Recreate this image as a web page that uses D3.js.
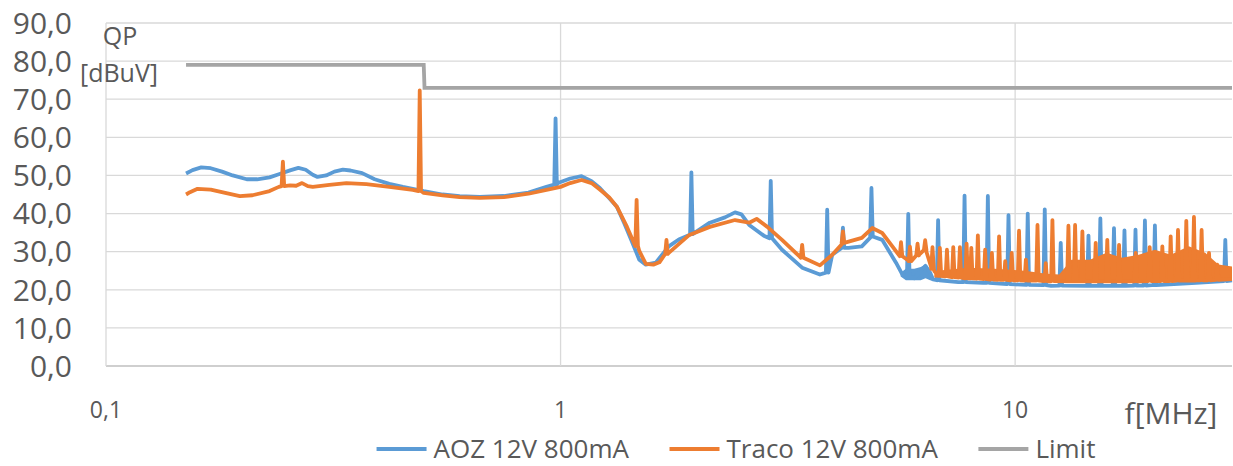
<!DOCTYPE html>
<html>
<head>
<meta charset="utf-8">
<title>QP conducted emission</title>
<style>
  body { margin: 0; background: #fff; }
  text { font-family: "Open Sans", sans-serif; fill: #595959; }
</style>
</head>
<body>
<svg id="chart" width="1233" height="466"></svg>
<script src="https://d3js.org/d3.v7.min.js"></script>
<script>
// ticks
const xTicks = [0.1, 1, 10]
const xTickLabels = ['0,1', '1', '10']
const yTicks = [0, 10, 20, 30, 40, 50, 60, 70, 80, 90]

// limit line [MHz, dBuV]
const limit = [[0.15, 79], [0.5, 79], [0.502, 73], [30, 73]]

// AOZ 12V 800mA : smooth trace, harmonic spikes [f, base, peak], noise band [f, lo, hi]
const aozBase = [
  [0.15, 50.5], [0.155, 51.4], [0.162, 52.1], [0.17, 51.9], [0.18, 51.0], [0.19, 50.0],
  [0.204, 49.0], [0.215, 49.0], [0.229, 49.5], [0.24, 50.3], [0.255, 51.4], [0.265, 52.0],
  [0.275, 51.5], [0.285, 50.2], [0.292, 49.6], [0.305, 50.0], [0.318, 51.0], [0.332, 51.5],
  [0.345, 51.3], [0.366, 50.6], [0.39, 49.0], [0.42, 47.8], [0.45, 47.0], [0.473, 46.5],
  [0.5, 45.9], [0.55, 45.0], [0.6, 44.6], [0.664, 44.4], [0.75, 44.6], [0.85, 45.5],
  [0.931, 47.0], [0.99, 48.1], [1.05, 49.2], [1.112, 49.8], [1.17, 48.5], [1.22, 46.7],
  [1.28, 44.0], [1.33, 41.8], [1.38, 37.5], [1.43, 33.1], [1.49, 27.9], [1.54, 26.6],
  [1.62, 27.1], [1.73, 31.4], [1.82, 33.2], [1.92, 34.4], [2.13, 37.6], [2.3, 39.0],
  [2.42, 40.3], [2.5, 39.8], [2.6, 37.0], [2.8, 34.2], [3.07, 30.5], [3.4, 25.8],
  [3.72, 24.0], [3.96, 29.2], [4.3, 31.0], [4.6, 31.4], [4.83, 34.0], [5.1, 33.1],
  [5.47, 27.1], [5.65, 24.0], [6.0, 23.0], [6.2, 25.0], [6.35, 26.3], [6.5, 24.5],
  [6.6, 22.7], [7.5, 22.0], [8.5, 21.8], [10, 21.4], [12, 21.0], [15, 21.0],
  [20, 21.2], [25, 21.8], [30, 22.5]
]
const aozSpikes = [
  [0.975, 47.6, 65.0], [1.94, 34.6, 50.8], [2.9, 33.5, 48.6], [3.86, 24.5, 41.0],
  [4.18, 31.0, 36.3], [4.83, 34.0, 46.7], [5.82, 23.5, 39.9], [6.77, 22.5, 38.3],
  [7.74, 22.0, 44.7], [8.71, 21.8, 44.6], [9.67, 21.5, 39.6], [10.66, 21.3, 40.0],
  [11.62, 21.2, 41.1], [12.6, 21.1, 32.3], [14.5, 21.0, 34.2], [15.4, 21.0, 38.7],
  [16.5, 21.0, 36.2], [17.4, 21.0, 35.6], [18.4, 21.1, 35.8], [19.3, 21.1, 38.2],
  [20.3, 21.2, 36.9], [29.0, 22.3, 33.1]
]
const aozNoise = [
  [5.6, 23.5, 24.5], [5.75, 22.5, 25.5], [6.0, 22.5, 25.5], [6.2, 22.5, 26.0],
  [6.35, 23.0, 26.6], [6.5, 22.5, 25.0], [6.6, 22.3, 23.5]
]

// Traco 12V 800mA
const tracoBase = [
  [0.15, 45.0], [0.153, 45.6], [0.159, 46.5], [0.17, 46.3], [0.185, 45.3], [0.197, 44.6],
  [0.21, 44.8], [0.229, 45.9], [0.24, 47.0], [0.254, 47.4], [0.262, 47.3], [0.27, 48.0],
  [0.278, 47.2], [0.285, 47.0], [0.31, 47.5], [0.338, 48.0], [0.374, 47.7], [0.42, 47.0],
  [0.473, 46.2], [0.5, 45.4], [0.55, 44.8], [0.6, 44.3], [0.664, 44.1], [0.75, 44.3],
  [0.85, 45.2], [0.931, 46.2], [1.0, 47.0], [1.05, 48.0], [1.112, 48.8], [1.17, 48.0],
  [1.22, 46.3], [1.28, 44.2], [1.33, 41.8], [1.4, 36.5], [1.49, 30.2], [1.54, 26.8],
  [1.6, 26.6], [1.65, 27.2], [1.73, 29.7], [1.92, 34.4], [2.13, 36.5], [2.42, 38.3],
  [2.6, 37.6], [2.7, 38.6], [2.85, 36.5], [3.07, 33.1], [3.35, 28.8], [3.72, 26.4],
  [3.96, 29.2], [4.18, 32.3], [4.6, 33.6], [4.85, 36.2], [5.1, 34.9], [5.37, 31.4],
  [5.65, 28.8], [5.85, 27.5], [6.15, 29.2], [6.36, 30.5], [6.53, 26.1], [6.64, 24.9],
  [7.0, 23.5], [8.0, 23.0], [9.0, 22.7], [10, 22.5], [12, 22.2], [16, 22.2],
  [20, 22.3], [25, 22.5], [30, 22.8]
]
const tracoSpikes = [
  [0.245, 47.2, 53.6], [0.49, 45.9, 72.3], [1.47, 31.5, 43.6], [1.71, 29.4, 33.1],
  [3.4, 28.4, 31.8], [4.18, 32.3, 35.3], [5.61, 28.8, 32.5], [5.87, 27.5, 31.3],
  [6.1, 29.0, 32.1], [6.34, 30.4, 33.0], [6.58, 25.5, 31.2], [6.83, 23.8, 31.0],
  [7.08, 23.5, 30.5], [7.31, 23.3, 31.2], [7.56, 23.2, 31.2], [7.82, 23.0, 32.1],
  [8.01, 23.0, 31.0], [8.28, 22.9, 34.3], [8.59, 22.8, 30.5], [8.89, 22.7, 29.7],
  [9.22, 22.6, 34.0], [9.51, 22.6, 27.5], [9.83, 22.5, 29.7], [10.2, 22.5, 35.5],
  [10.56, 22.4, 27.9], [11.2, 22.4, 37.0], [11.68, 22.3, 27.0], [12.08, 22.3, 38.3],
  [13.1, 22.2, 36.8], [13.55, 22.2, 37.0], [14.06, 22.2, 35.3], [15.04, 22.2, 32.3],
  [15.95, 22.2, 33.1], [16.93, 22.2, 31.8], [18.42, 22.2, 29.7], [19.77, 22.3, 31.2],
  [21.08, 22.3, 31.4], [21.99, 22.3, 34.0], [22.82, 22.4, 35.7], [23.8, 22.4, 38.1],
  [24.74, 22.4, 39.1], [25.72, 22.5, 35.7], [26.7, 22.5, 29.7], [27.84, 22.6, 26.6]
]
const tracoNoise = [
  [6.64, 23.2, 24.9], [7.9, 22.8, 25.8], [9.0, 22.6, 25.5], [10.5, 22.4, 25.0],
  [11.7, 22.3, 24.2], [12.5, 22.2, 24.0], [12.7, 22.2, 25.0], [13.3, 22.2, 27.9],
  [14.6, 22.2, 27.9], [15.9, 22.2, 29.7], [17.2, 22.2, 28.4], [18.7, 22.2, 29.2],
  [20.3, 22.3, 30.5], [22.0, 22.3, 29.2], [24.1, 22.4, 31.4], [26.2, 22.5, 29.7],
  [28.0, 22.6, 26.6], [30, 22.8, 26.1]
]

const seriesNames = ['AOZ 12V 800mA', 'Traco 12V 800mA', 'Limit']
const colors = ['#5B9BD5', '#ED7D31', '#A5A5A5']

const svg = d3.select('#chart')
const margin = { left: 106, right: 1232, top: 23, bottom: 366 }

const x = d3.scaleLog().domain([0.1, 30]).range([margin.left, margin.right])
const y = d3.scaleLinear().domain([0, 90]).range([margin.bottom, margin.top])

// gridlines
svg.append('g')
  .selectAll('line')
  .data(yTicks)
  .join('line')
  .attr('x1', margin.left).attr('x2', margin.right)
  .attr('y1', d => y(d)).attr('y2', d => y(d))
  .attr('stroke', d => d === 0 ? '#BFBFBF' : '#D9D9D9')
  .attr('stroke-width', 1.3)

svg.append('g')
  .selectAll('line')
  .data(xTicks)
  .join('line')
  .attr('x1', d => x(d)).attr('x2', d => x(d))
  .attr('y1', margin.top).attr('y2', margin.bottom)
  .attr('stroke', '#D9D9D9')
  .attr('stroke-width', 1.3)

// tick labels
svg.append('g')
  .selectAll('text')
  .data(yTicks)
  .join('text')
  .attr('x', 72)
  .attr('y', d => y(d))
  .attr('dy', '0.36em')
  .attr('text-anchor', 'end')
  .style('font-size', '30px')
  .text(d => d3.format('.1f')(d).replace('.', ','))

svg.append('g')
  .selectAll('text')
  .data(xTicks)
  .join('text')
  .attr('x', d => x(d))
  .attr('y', 410)
  .attr('dy', '0.36em')
  .attr('text-anchor', 'middle')
  .style('font-size', '23px')
  .text((d, i) => xTickLabels[i])

// axis titles
svg.append('text').attr('x', 120).attr('y', 36).attr('dy', '0.36em')
  .attr('text-anchor', 'middle').style('font-size', '25px').text('QP')
svg.append('text').attr('x', 119).attr('y', 73).attr('dy', '0.36em')
  .attr('text-anchor', 'middle').style('font-size', '25px').text('[dBuV]')
svg.append('text').attr('x', 1171).attr('y', 413).attr('dy', '0.36em')
  .attr('text-anchor', 'middle').style('font-size', '30px').text('f[MHz]')

// series: spikes are inserted into the trace as narrow up/down strokes
function withSpikes(base, spikes) {
  const pts = base.map(d => ({ f: d[0], v: d[1], k: 0, dx: 0 }))
  spikes.forEach(s => {
    pts.push({ f: s[0], v: s[1], k: 1, dx: -1.3 },
             { f: s[0], v: s[2], k: 2, dx: 0 },
             { f: s[0], v: s[1], k: 3, dx: 1.3 })
  })
  return pts.sort((a, b) => a.f - b.f || a.k - b.k)
}

const line = d3.line().x(d => x(d.f) + d.dx).y(d => y(d.v))
const band = d3.area().x(d => x(d[0])).y0(d => y(d[1])).y1(d => y(d[2]))
const plot = svg.append('g')

plot.append('path').datum(aozNoise).attr('d', band).attr('fill', colors[0])
plot.append('path').datum(withSpikes(aozBase, aozSpikes))
  .attr('d', line).attr('fill', 'none').attr('stroke', colors[0])
  .attr('stroke-width', 3.8).attr('stroke-linejoin', 'round')

plot.append('path').datum(tracoNoise).attr('d', band).attr('fill', colors[1])
plot.append('path').datum(withSpikes(tracoBase, tracoSpikes))
  .attr('d', line).attr('fill', 'none').attr('stroke', colors[1])
  .attr('stroke-width', 3.8).attr('stroke-linejoin', 'round')

plot.append('path').datum(limit)
  .attr('d', d3.line().x(d => x(d[0])).y(d => y(d[1])))
  .attr('fill', 'none').attr('stroke', colors[2]).attr('stroke-width', 3.8)

// legend
const legend = svg.append('g')
const items = legend.selectAll('g').data(seriesNames).join('g')
items.append('line')
  .attr('x1', 0).attr('x2', 50).attr('y1', 0).attr('y2', 0)
  .attr('stroke', (d, i) => colors[i]).attr('stroke-width', 3.8)
items.append('text')
  .attr('x', 57).attr('dy', '0.36em')
  .style('font-size', '26px')
  .text(d => d)

let pos = 0
const starts = []
items.each(function () {
  starts.push(pos)
  pos += this.getBBox().width + 40
})
const total = pos - 40
const left = 736 - total / 2
items.attr('transform', (d, i) => `translate(${left + starts[i]}, 449)`)
</script>
</body>
</html>
